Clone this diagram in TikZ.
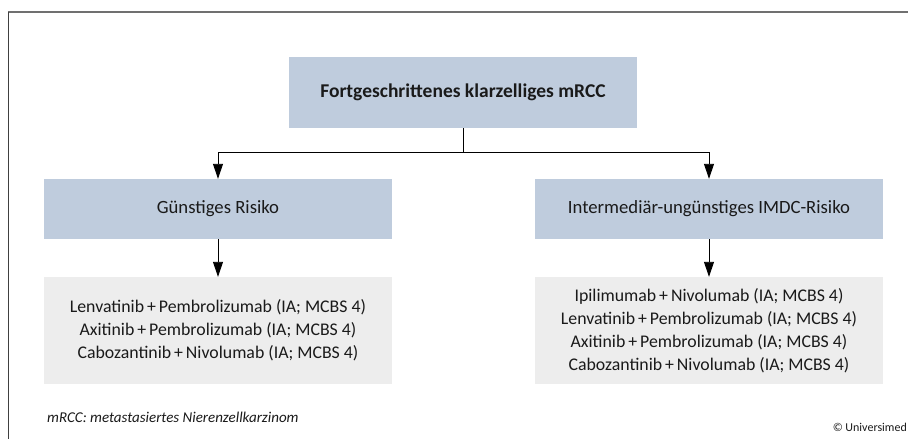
\documentclass[tikz,border=0pt]{standalone}
\usepackage{fontspec}
\setmainfont{Carlito}
\usetikzlibrary{arrows.meta}
\definecolor{boxblue}{HTML}{BFCCDD}
\definecolor{boxgray}{HTML}{EDEDED}
\definecolor{txt}{HTML}{1A1A1A}
\definecolor{frametop}{HTML}{707070}
\definecolor{frameleft}{HTML}{404040}
\begin{document}
\begin{tikzpicture}[x=1pt,y=-1pt,
  bluebox/.style={fill=boxblue,inner sep=0pt,minimum width=348pt,align=center,text=txt},
  graybox/.style={fill=boxgray,inner sep=0pt,minimum width=348pt,minimum height=107pt,align=center,text=txt,font=\fontsize{17.8}{23}\selectfont},
  conn/.style={line width=0.9pt,black},
  arr/.style={conn,-{Triangle[width=10pt,length=15pt]}}]
\useasboundingbox (0,0) rectangle (908,439);
\fill[white] (0,0) rectangle (908,439);
\draw[frametop,line width=1.3pt] (8,12) -- (908,12);
\draw[frameleft,line width=1pt] (8,12) -- (8,439);
\node[bluebox,minimum height=71pt,font=\bfseries\fontsize{19.5}{22}\selectfont] (top) at (463,92.5) {Fortgeschrittenes klarzelliges mRCC};
\node[bluebox,minimum height=60pt,font=\fontsize{18.7}{22}\selectfont] (l1) at (218,209) {Günstiges Risiko};
\node[bluebox,minimum height=60pt,font=\fontsize{18.7}{22}\selectfont] (r1) at (709,209) {Intermediär-ungünstiges IMDC-Risiko};
\node[graybox] (l2) at (218,330.5) {Lenvatinib\,+\,Pembrolizumab (IA; MCBS 4)\\Axitinib\,+\,Pembrolizumab (IA; MCBS 4)\\Cabozantinib\,+\,Nivolumab (IA; MCBS 4)};
\node[graybox] (r2) at (709,330.5) {Ipilimumab\,+\,Nivolumab (IA; MCBS 4)\\Lenvatinib\,+\,Pembrolizumab (IA; MCBS 4)\\Axitinib\,+\,Pembrolizumab (IA; MCBS 4)\\Cabozantinib\,+\,Nivolumab (IA; MCBS 4)};
\coordinate (j) at (463,152);
\draw[conn] (top.south) -- (j);
\draw[arr] (j) -| (l1.north);
\draw[arr] (j) -| (r1.north);
\draw[arr] (l1.south) -- (l2.north);
\draw[arr] (r1.south) -- (r2.north);
\node[anchor=west,inner sep=0pt,text=txt,font=\itshape\fontsize{15}{17}\selectfont] (fn) at (47,417) {mRCC: metastasiertes Nierenzellkarzinom};
\node[anchor=east,inner sep=0pt,text=txt,font=\fontsize{12}{14}\selectfont] (cr) at (907,427) {© Universimed};
\end{tikzpicture}
\end{document}
